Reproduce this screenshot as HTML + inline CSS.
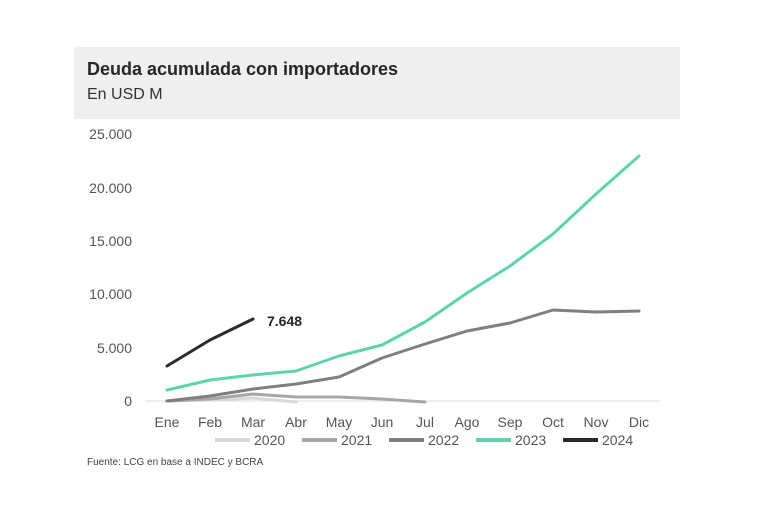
<!DOCTYPE html>
<html><head><meta charset="utf-8"><style>
body{margin:0;background:#fff;}
svg{display:block;font-family:"Liberation Sans",sans-serif;}
</style></head><body>
<svg width="768" height="512" viewBox="0 0 768 512">
<rect x="74" y="47" width="606" height="72" fill="#efefef"/>
<text x="87" y="75" font-size="18" font-weight="bold" fill="#262626">Deuda acumulada con importadores</text>
<text x="87" y="99" font-size="16" fill="#333">En USD M</text>
<g font-size="14" fill="#555" text-anchor="end">
<text x="132" y="139">25.000</text>
<text x="132" y="193">20.000</text>
<text x="132" y="246">15.000</text>
<text x="132" y="299">10.000</text>
<text x="132" y="353">5.000</text>
<text x="132" y="406">0</text>
</g>
<line x1="145" y1="401" x2="660" y2="401" stroke="#d9d9d9" stroke-width="1"/>
<g font-size="14" fill="#555" text-anchor="middle">
<text x="167" y="427">Ene</text><text x="210" y="427">Feb</text><text x="253" y="427">Mar</text>
<text x="296" y="427">Abr</text><text x="339" y="427">May</text><text x="382" y="427">Jun</text>
<text x="425" y="427">Jul</text><text x="467" y="427">Ago</text><text x="510" y="427">Sep</text>
<text x="553" y="427">Oct</text><text x="596" y="427">Nov</text><text x="639" y="427">Dic</text>
</g>
<g fill="none" stroke-width="3" stroke-linejoin="round" stroke-linecap="round">
<polyline stroke="#d9d9d9" points="167,401 210,400 253,398 296,402"/>
<polyline stroke="#a6a6a6" points="167,401 210,399 253,394 296,397 339,397 382,399 425,402"/>
<polyline stroke="#7f7f7f" points="167,401 210,396 253,389 296,384 339,377 382,358 425,344 467,331 510,323 553,310 596,312 639,311"/>
<polyline stroke="#5fd3ab" points="167,390 210,380 253,375 296,371 339,356 382,345 425,322 467,293 510,266 553,234 596,194 639,156"/>
<polyline stroke="#2b2b2b" points="167,366 210,340 253,319"/>
</g>
<text x="267" y="326" font-size="14" font-weight="bold" fill="#262626">7.648</text>
<g font-size="14" fill="#555" stroke-width="4">
<line x1="215" y1="440" x2="250" y2="440" stroke="#d9d9d9"/><text x="254" y="445">2020</text>
<line x1="302" y1="440" x2="337" y2="440" stroke="#a6a6a6"/><text x="341" y="445">2021</text>
<line x1="389" y1="440" x2="424" y2="440" stroke="#7f7f7f"/><text x="428" y="445">2022</text>
<line x1="476" y1="440" x2="511" y2="440" stroke="#5fd3ab"/><text x="515" y="445">2023</text>
<line x1="563" y1="440" x2="598" y2="440" stroke="#2b2b2b"/><text x="602" y="445">2024</text>
</g>
<text x="87" y="465" font-size="10" fill="#444">Fuente: LCG en base a INDEC y BCRA</text>
</svg>
</body></html>
